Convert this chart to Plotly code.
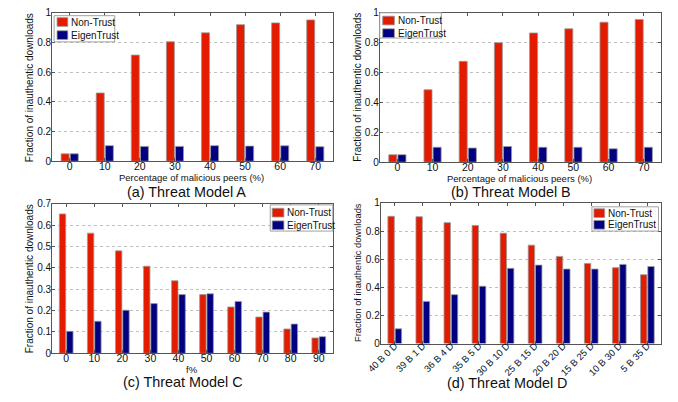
import plotly.graph_objects as go

# ---- data ----
series_names = ["Non-Trust", "EigenTrust"]
pct_ab = ["0", "10", "20", "30", "40", "50", "60", "70"]
a_nontrust = [0.05, 0.46, 0.715, 0.805, 0.865, 0.92, 0.932, 0.952]
a_eigen = [0.05, 0.105, 0.10, 0.10, 0.105, 0.102, 0.104, 0.098]
b_nontrust = [0.05, 0.485, 0.675, 0.80, 0.865, 0.893, 0.937, 0.955]
b_eigen = [0.05, 0.10, 0.095, 0.105, 0.10, 0.10, 0.09, 0.10]
f_c = ["0", "10", "20", "30", "40", "50", "60", "70", "80", "90"]
c_nontrust = [0.653, 0.563, 0.48, 0.408, 0.34, 0.275, 0.217, 0.17, 0.114, 0.072]
c_eigen = [0.103, 0.15, 0.202, 0.233, 0.275, 0.279, 0.243, 0.193, 0.137, 0.078]
d_cats = ["40 B 0 D", "39 B 1 D", "36 B 4 D", "35 B 5 D", "30 B 10 D",
          "25 B 15 D", "20 B 20 D", "15 B 25 D", "10 B 30 D", "5 B 35 D"]
d_nontrust = [0.905, 0.902, 0.86, 0.84, 0.785, 0.70, 0.62, 0.57, 0.54, 0.49]
d_eigen = [0.105, 0.30, 0.348, 0.408, 0.535, 0.558, 0.53, 0.53, 0.563, 0.548]

RED = "#e31c00"
BLUE = "#000080"
COLORS = [RED, BLUE]
FONT = "Liberation Sans, Arial, sans-serif"
TXT = "#111111"
W, H = 678, 402


def px(x):
    return x / W


def py(y):
    return 1 - y / H


fig = go.Figure()

panels = [
    # axes ids, cats, series, x-domain(px), y-domain(px top,bottom), yrange, dtick, tickangle, tickfont size, label standoff
    ("x", "y", pct_ab, [a_nontrust, a_eigen], (38, 325), (7, 160), [0, 1], 0.2, 0, 10.5, -5),
    ("x2", "y2", pct_ab, [b_nontrust, b_eigen], (373, 661), (7, 161), [0, 1], 0.2, 0, 10.5, -5),
    ("x3", "y3", f_c, [c_nontrust, c_eigen], (38, 325), (204, 358), [0, 0.7], 0.1, 0, 10.5, -5),
    ("x4", "y4", d_cats, [d_nontrust, d_eigen], (374, 661), (203, 348), [0, 1], 0.2, -45, 9.5, -8),
]

layout_extra = {}
for i, (xa, ya, cats, series, xd, yd, yr, dt, ta, tfs, tso) in enumerate(panels):
    idx = list(range(len(cats)))
    for k, vals in enumerate(series):
        fig.add_trace(go.Bar(x=idx, y=vals, name=series_names[k],
                             marker=dict(color=COLORS[k], line=dict(color="#9a9a9a", width=0.8)),
                             xaxis=xa, yaxis=ya, showlegend=False))
    xkey = "xaxis" + ("" if i == 0 else str(i + 1))
    ykey = "yaxis" + ("" if i == 0 else str(i + 1))
    layout_extra[xkey] = dict(
        domain=[px(xd[0]), px(xd[1])], anchor=ya, range=[-0.5, len(cats) - 0.5],
        tickmode="array", tickvals=idx, ticktext=cats, tickangle=ta,
        showline=True, mirror="ticks", linecolor="#555555", linewidth=1,
        ticks="inside", ticklen=3, tickcolor="#555555", showgrid=False, zeroline=False,
        ticklabelstandoff=tso,
        tickfont=dict(size=tfs, color=TXT, family=FONT),
    )
    layout_extra[ykey] = dict(
        domain=[py(yd[1]), py(yd[0])], anchor=xa, range=yr, dtick=dt,
        showline=True, mirror="ticks", linecolor="#555555", linewidth=1,
        ticks="inside", ticklen=3, tickcolor="#555555",
        showgrid=True, gridcolor="#c0c0c0", griddash="dot", gridwidth=1, zeroline=False,
        ticklabelstandoff=-2,
        tickfont=dict(size=10, color=TXT, family=FONT),
    )

annotations = []
shapes = []

# subplot titles
for t, x, y in [("(a) Threat Model A", 175, 192), ("(b) Threat Model B", 507, 192),
                ("(c) Threat Model C", 172, 388), ("(d) Threat Model D", 504, 389)]:
    annotations.append(dict(text=t, x=px(x), y=py(y), xref="paper", yref="paper", showarrow=False,
                            xanchor="center", yanchor="middle",
                            font=dict(size=14.4, color=TXT, family=FONT)))

# axis titles
for t, x, y in [("Percentage of malicious peers (%)", 181, 177),
                ("Percentage of malicious peers (%)", 516, 178),
                ("f%", 181, 375)]:
    annotations.append(dict(text=t, x=px(x), y=py(y), xref="paper", yref="paper", showarrow=False,
                            xanchor="center", yanchor="middle",
                            font=dict(size=9.5, color=TXT, family=FONT)))
for x, y, fs in [(15, 84, 10), (350, 84, 10), (15, 281, 10), (351, 275, 9.3)]:
    annotations.append(dict(text="Fraction of inauthentic downloads", x=px(x), y=py(y),
                            xref="paper", yref="paper", showarrow=False, textangle=-90,
                            xanchor="center", yanchor="middle",
                            font=dict(size=fs, color=TXT, family=FONT)))

# legends (box, swatches, labels) in pixel layout
legend_boxes = [
    # box x0, y0, x1, y1, swatch x0, x1, row centers
    (40, 10, 102, 37, 43, 54, (16.5, 30)),
    (373, 7, 436, 33, 376, 388, (15, 28)),
    (261, 205, 325, 232, 263, 275, (213, 226)),
    (590, 207, 658, 232, 592, 603, (213.5, 225.5)),
]
for bx0, by0, bx1, by1, sx0, sx1, rows in legend_boxes:
    shapes.append(dict(type="rect", xref="paper", yref="paper",
                       x0=px(bx0), x1=px(bx1), y0=py(by1), y1=py(by0),
                       line=dict(color="#a0a0a0", width=1), fillcolor="white", layer="above"))
    for k, rc in enumerate(rows):
        shapes.append(dict(type="rect", xref="paper", yref="paper",
                           x0=px(sx0), x1=px(sx1), y0=py(rc + 4.5), y1=py(rc - 4.5),
                           line=dict(color="#9a9a9a", width=0.8), fillcolor=COLORS[k], layer="above"))
        annotations.append(dict(text=series_names[k], x=px(sx1 + 1.5), y=py(rc), xref="paper", yref="paper",
                                showarrow=False, xanchor="left", yanchor="middle",
                                font=dict(size=10, color="#111111", family=FONT)))

fig.update_layout(
    width=W, height=H, margin=dict(l=0, r=0, t=0, b=0),
    paper_bgcolor="white", plot_bgcolor="white",
    barmode="group", bargap=0.48, bargroupgap=0.12, showlegend=False,
    annotations=annotations, shapes=shapes, font=dict(family=FONT),
    **layout_extra,
)

fig.write_html("out.html")
